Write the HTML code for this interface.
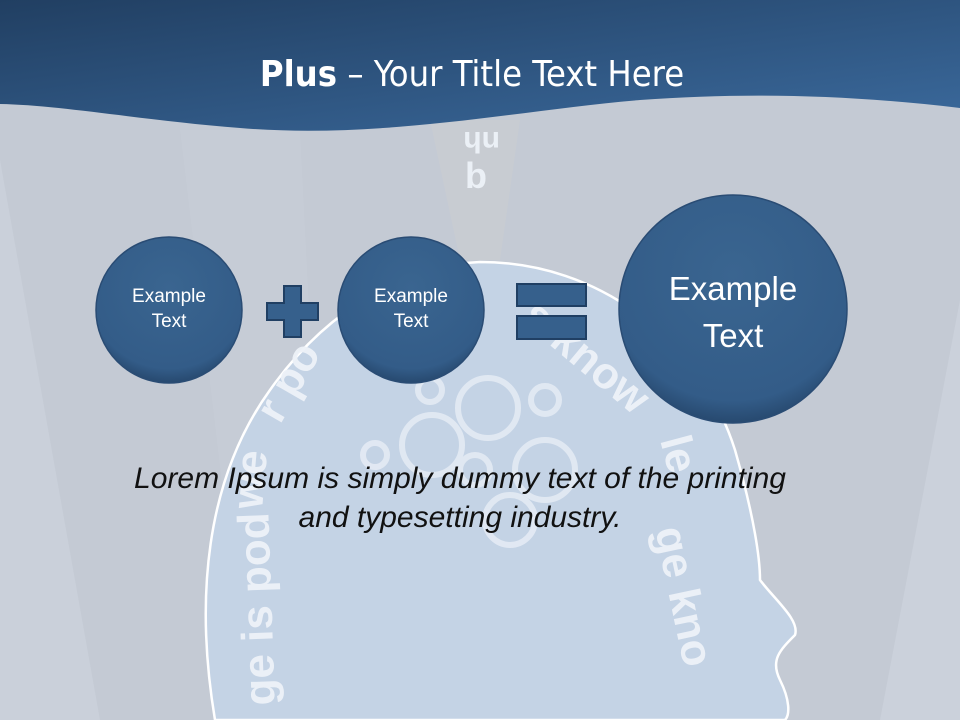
<!DOCTYPE html>
<html><head><meta charset="utf-8"><style>
html,body{margin:0;padding:0}
body{width:960px;height:720px;overflow:hidden;position:relative;background:#c4cad4;font-family:"Liberation Sans",sans-serif}
svg{position:absolute;left:0;top:0}
.t{position:absolute;color:#fff;text-align:center;line-height:1.3}
</style></head><body>
<svg width="960" height="720" viewBox="0 0 960 720">
<defs>
<linearGradient id="hd" x1="0" y1="0" x2="1" y2="1">
<stop offset="0" stop-color="#213f62"/><stop offset="1" stop-color="#3b6a9d"/></linearGradient>
<radialGradient id="cg" cx="0.5" cy="0.35" r="0.65">
<stop offset="0" stop-color="#3a6590"/><stop offset="0.85" stop-color="#335c88"/><stop offset="1" stop-color="#27496f"/></radialGradient>
</defs>
<polygon points="0,160 100,720 0,720" fill="#cad0da"/>
<polygon points="180,130 300,130 330,720 250,720" fill="#c8ced8" opacity="0.5"/>
<polygon points="960,300 960,720 880,720" fill="#cbd1db"/>
<polygon points="430,120 520,120 500,260 460,260" fill="#c8ccd2"/>
<path d="M215,720 C195,600 205,480 270,390 C330,305 410,265 480,262 C600,262 700,340 735,450 C755,520 760,560 760,580 C775,600 800,620 795,635 C780,650 770,660 780,680 C790,700 790,715 785,720 Z" fill="#c4d3e5" stroke="#fff" stroke-width="2.5"/>
<g fill="none" stroke="#e8eef6" stroke-width="6" opacity="0.8">
<circle cx="488" cy="408" r="30"/><circle cx="432" cy="445" r="30"/><circle cx="545" cy="470" r="30"/>
<circle cx="430" cy="390" r="12"/><circle cx="545" cy="400" r="14"/><circle cx="510" cy="520" r="25"/>
<circle cx="375" cy="455" r="12"/><circle cx="475" cy="470" r="15"/>
</g>
<g fill="#eef2f8" font-family="Liberation Sans" font-weight="bold" font-size="44" opacity="0.95">
<text x="280" y="425" transform="rotate(-60 280 425)">r po</text>
<text x="262" y="510" transform="rotate(-85 262 510)">we</text>
<text x="275" y="705" transform="rotate(-92 275 705)">ge is pod</text>
<text x="520" y="320" transform="rotate(40 520 320)">s know</text>
<text x="660" y="440" transform="rotate(75 660 440)">le</text>
<text x="655" y="530" transform="rotate(78 655 530)">ge kno</text>
<text x="465" y="188" font-size="36">b</text>
<text x="450" y="148" font-size="30" transform="rotate(180 475 140)">nh</text>
</g>
<path d="M0,0 H960 V108 C850,95 750,92 640,100 C520,110 380,140 240,128 C140,120 60,105 0,104 Z" fill="url(#hd)"/>
<circle cx="169" cy="310" r="73" fill="url(#cg)" stroke="#2a4c74" stroke-width="1.5"/>
<circle cx="411" cy="310" r="73" fill="url(#cg)" stroke="#2a4c74" stroke-width="1.5"/>
<circle cx="733" cy="309" r="114" fill="url(#cg)" stroke="#2a4c74" stroke-width="1.5"/>
<path d="M284,286 H301 V303 H318 V320 H301 V337 H284 V320 H267 V303 H284 Z" fill="#36608c" stroke="#203f63" stroke-width="2"/>
<rect x="517" y="284" width="69" height="22" fill="#36608c" stroke="#203f63" stroke-width="2"/>
<rect x="517" y="316" width="69" height="23" fill="#36608c" stroke="#203f63" stroke-width="2"/>
</svg>
<div class="t" style="left:0;width:944px;top:53px;font-size:36px;line-height:44px;font-family:'DejaVu Sans Condensed','Liberation Sans',sans-serif"><b>Plus</b> – Your Title Text Here</div>
<div class="t" style="left:96px;top:285px;width:146px;font-size:19px">Example<br>Text</div>
<div class="t" style="left:338px;top:285px;width:146px;font-size:19px">Example<br>Text</div>
<div class="t" style="left:620px;top:266px;width:226px;font-size:33px;line-height:1.42">Example<br>Text</div>
<div style="position:absolute;left:60px;top:459px;width:800px;text-align:center;font-style:italic;font-size:30px;line-height:39px;color:#111">Lorem Ipsum is simply dummy text of the printing<br>and typesetting industry.</div>
</body></html>
